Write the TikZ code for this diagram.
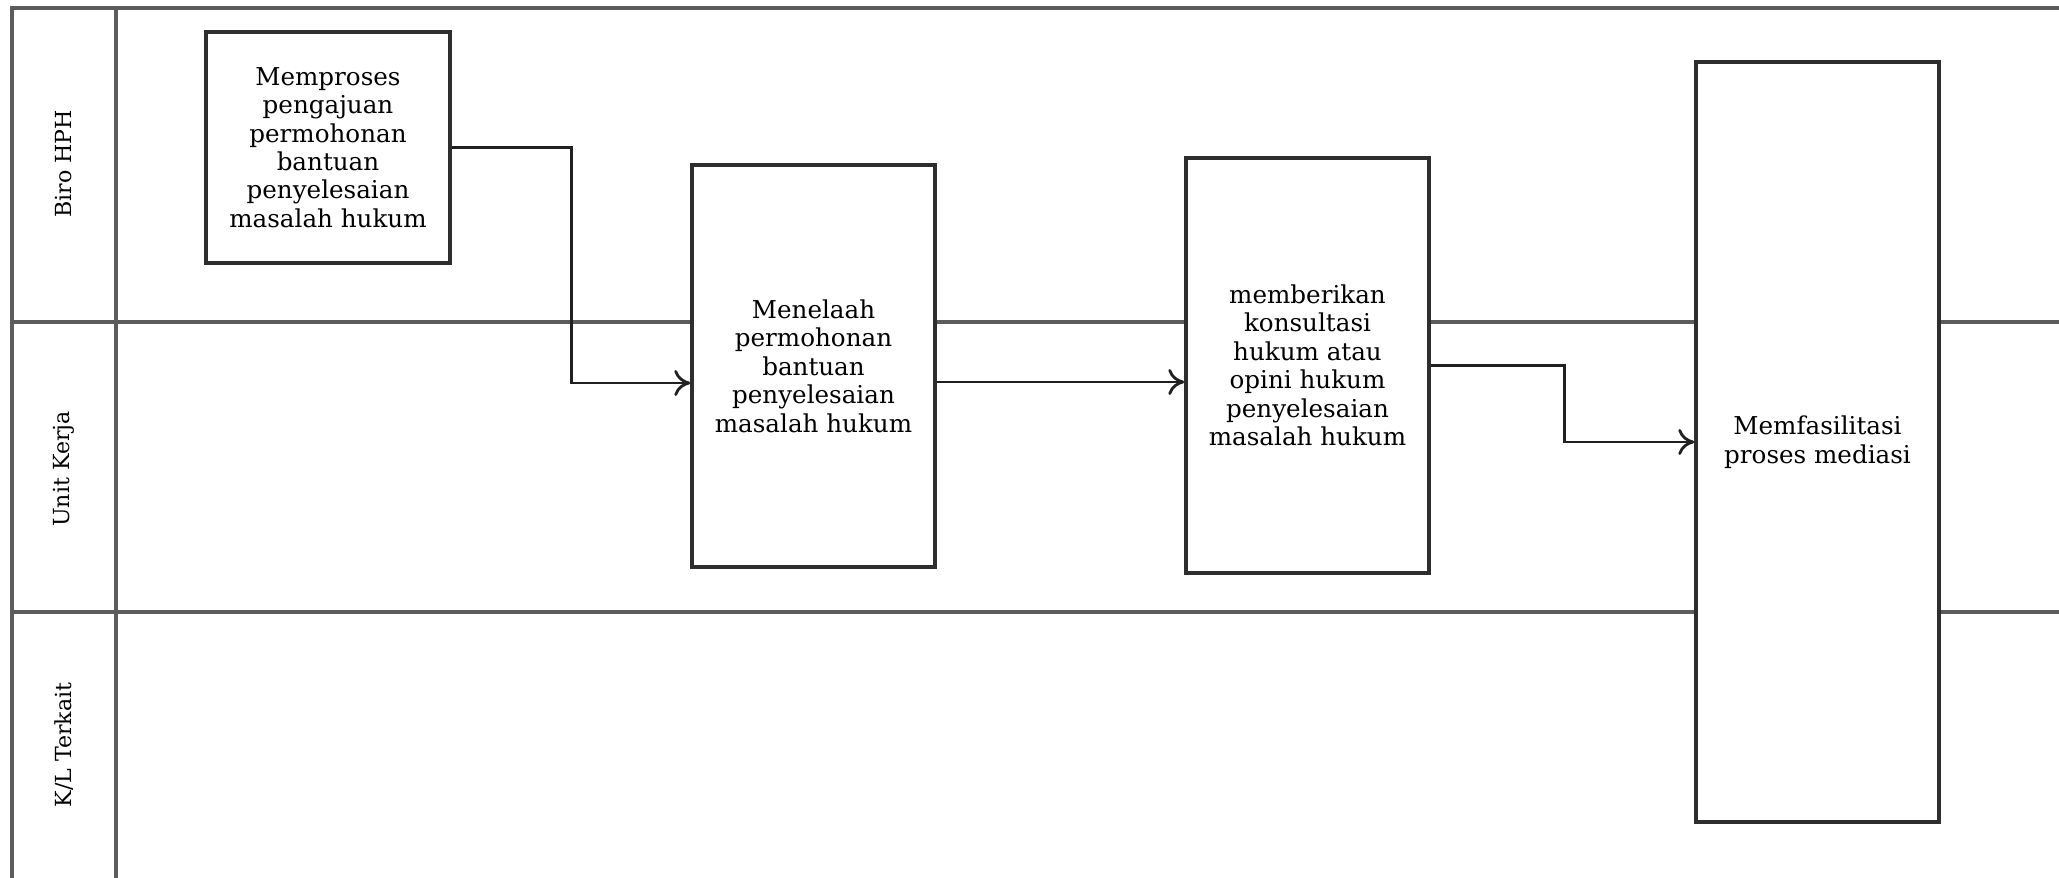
\documentclass[tikz,border=0pt]{standalone}
\usepackage{fontspec}
\setmainfont{DejaVu Serif}
\usepackage{xcolor}
\usepackage{tikz}
\usetikzlibrary{arrows.meta}
\definecolor{SLLane}{HTML}{5C5C5C}
\definecolor{SLBox}{HTML}{2E2E2E}
\definecolor{SLFlow}{HTML}{202020}

\begin{document}
\begin{tikzpicture}[x=1cm,y=1cm,
  procbox/.style={draw=SLBox,fill=white,line width=1pt,align=center,
    inner sep=0pt,font=\fontsize{7}{8.1}\selectfont},
  lanelabel/.style={rotate=90,font=\fontsize{6.3}{7.5}\selectfont},
  flow/.style={SLFlow,line width=.8pt,-{To[length=1.6mm,width=2.6mm]}}]
\path[use as bounding box] (0,0) rectangle (20.59,8.78);
\fill[white] (0,0) rectangle (20.59,8.78);
% swimlane frame
\draw[SLLane,line width=1.1pt] (0.12,0) -- (0.12,8.70) -- (20.59,8.70);
\draw[SLLane,line width=1.1pt] (1.16,0) -- (1.16,8.70);
\draw[SLLane,line width=1.1pt] (0.12,5.56) -- (20.59,5.56);
\draw[SLLane,line width=1.1pt] (0.12,2.66) -- (20.59,2.66);
\node[lanelabel] (lbiro) at (0.64,7.14) {Biro HPH};
\node[lanelabel] (lunit) at (0.64,4.09) {Unit Kerja};
\node[lanelabel] (lkl) at (0.64,1.33) {K/L Terkait};
% process boxes
\node[procbox,minimum width=2.44cm,minimum height=2.31cm] (memproses) at (3.28,7.305)
  {Memproses\\pengajuan\\permohonan\\bantuan\\penyelesaian\\masalah hukum};
\node[procbox,minimum width=2.43cm,minimum height=4.02cm] (menelaah) at (8.135,5.12)
  {Menelaah\\permohonan\\bantuan\\penyelesaian\\masalah hukum};
\node[procbox,minimum width=2.43cm,minimum height=4.15cm] (konsultasi) at (13.075,5.125)
  {memberikan\\konsultasi\\hukum atau\\opini hukum\\penyelesaian\\masalah hukum};
\node[procbox,minimum width=2.43cm,minimum height=7.60cm] (mediasi) at (18.175,4.36)
  {Memfasilitasi\\proses mediasi};
% connectors
\coordinate (in2) at ([yshift=-0.17cm]menelaah.west);
\coordinate (out2) at ([yshift=-0.16cm]menelaah.east);
\draw[flow] (memproses.east) -- ++(1.20,0) |- (in2);
\draw[flow] (out2) -- (out2 -| konsultasi.west);
\draw[flow] (konsultasi.east) -- ++(1.34,0) |- (mediasi.west);
\end{tikzpicture}
\end{document}
